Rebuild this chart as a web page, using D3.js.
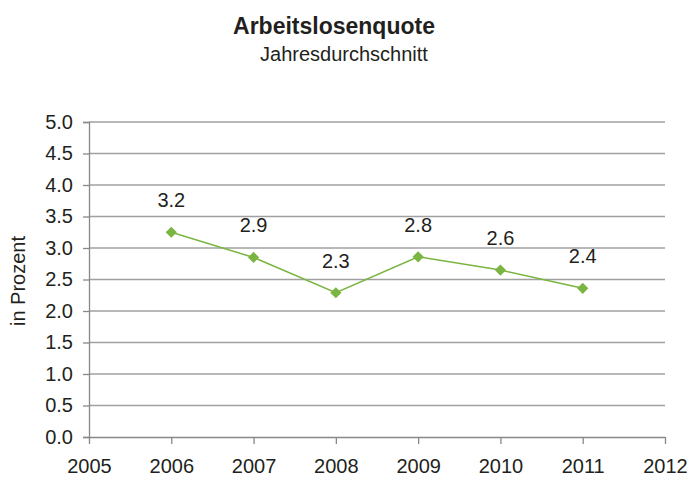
<!DOCTYPE html>
<html>
<head>
<meta charset="utf-8">
<script src="https://cdn.jsdelivr.net/npm/d3@7"></script>
<style>
  body { margin: 0; background: #fff; }
  text { font-family: "Liberation Sans", Arial, sans-serif; fill: #231f20; }
</style>
</head>
<body>
<svg width="688" height="477"></svg>
<script>
var years = [2006, 2007, 2008, 2009, 2010, 2011];
var quote = [3.25, 2.85, 2.29, 2.86, 2.65, 2.36];
var labels = ["3.2", "2.9", "2.3", "2.8", "2.6", "2.4"];
var xTicks = [2005, 2006, 2007, 2008, 2009, 2010, 2011, 2012];
var yTicks = [0, 0.5, 1, 1.5, 2, 2.5, 3, 3.5, 4, 4.5, 5];

var svg = d3.select("svg"),
    width = +svg.attr("width"),
    height = +svg.attr("height");

var margin = {top: 122, right: 23, bottom: 40, left: 89};

var x = d3.scaleLinear().domain([2005, 2012]).range([margin.left, width - margin.right]);
var y = d3.scaleLinear().domain([0, 5]).range([height - margin.bottom, margin.top]);

var green = "#7ab441";
var fs = "20px";

// title
svg.append("text")
    .attr("x", 334).attr("y", 34)
    .attr("text-anchor", "middle")
    .style("font-size", "23px").style("font-weight", "bold")
    .text("Arbeitslosenquote");
svg.append("text")
    .attr("x", 344).attr("y", 61)
    .attr("text-anchor", "middle")
    .style("font-size", "20px")
    .text("Jahresdurchschnitt");

// grid
svg.append("g")
    .selectAll("line")
    .data(yTicks.slice(1))
    .enter().append("line")
    .attr("x1", x(2005)).attr("x2", x(2012))
    .attr("y1", function(d) { return y(d); })
    .attr("y2", function(d) { return y(d); })
    .attr("stroke", "#a0a0a0").attr("stroke-width", 1.3);

// y axis
var yAxis = svg.append("g")
    .attr("transform", "translate(" + margin.left + ",0)")
    .call(d3.axisLeft(y).tickValues(yTicks).tickFormat(d3.format(".1f")).tickSize(6).tickPadding(10));
yAxis.select(".domain").attr("stroke", "#888").attr("stroke-width", 1.3);
yAxis.selectAll(".tick line").attr("stroke", "#888").attr("stroke-width", 1.3);
yAxis.selectAll("text").style("font-size", fs).attr("fill", "#231f20")
    .style("font-family", "'Liberation Sans', Arial, sans-serif");

// x axis
var xAxis = svg.append("g")
    .attr("transform", "translate(0," + y(0) + ")")
    .call(d3.axisBottom(x).tickValues(xTicks).tickFormat(d3.format("d")).tickSizeInner(7).tickSizeOuter(0).tickPadding(15));
xAxis.select(".domain").attr("stroke", "#888").attr("stroke-width", 1.3);
xAxis.selectAll(".tick line").attr("stroke", "#888").attr("stroke-width", 1.3);
xAxis.selectAll("text").style("font-size", fs).attr("fill", "#231f20")
    .style("font-family", "'Liberation Sans', Arial, sans-serif");

// y label
svg.append("text")
    .attr("transform", "translate(25,281) rotate(-90)")
    .attr("text-anchor", "middle")
    .style("font-size", fs)
    .text("in Prozent");

// line
var pts = years.map(function(d, i) { return {year: d, value: quote[i], label: labels[i]}; });

svg.append("path")
    .datum(pts)
    .attr("fill", "none")
    .attr("stroke", green)
    .attr("stroke-width", 1.5)
    .attr("d", d3.line().x(function(d) { return x(d.year); }).y(function(d) { return y(d.value); }));

svg.append("g")
    .selectAll("path")
    .data(pts)
    .enter().append("path")
    .attr("d", d3.symbol().type(d3.symbolDiamond2).size(80))
    .attr("transform", function(d) { return "translate(" + x(d.year) + "," + y(d.value) + ")"; })
    .attr("fill", green);

svg.append("g")
    .selectAll("text")
    .data(pts)
    .enter().append("text")
    .attr("x", function(d) { return x(d.year); })
    .attr("y", function(d) { return y(d.value) - 25; })
    .attr("text-anchor", "middle")
    .style("font-size", fs)
    .text(function(d) { return d.label; });
</script>
</body>
</html>
